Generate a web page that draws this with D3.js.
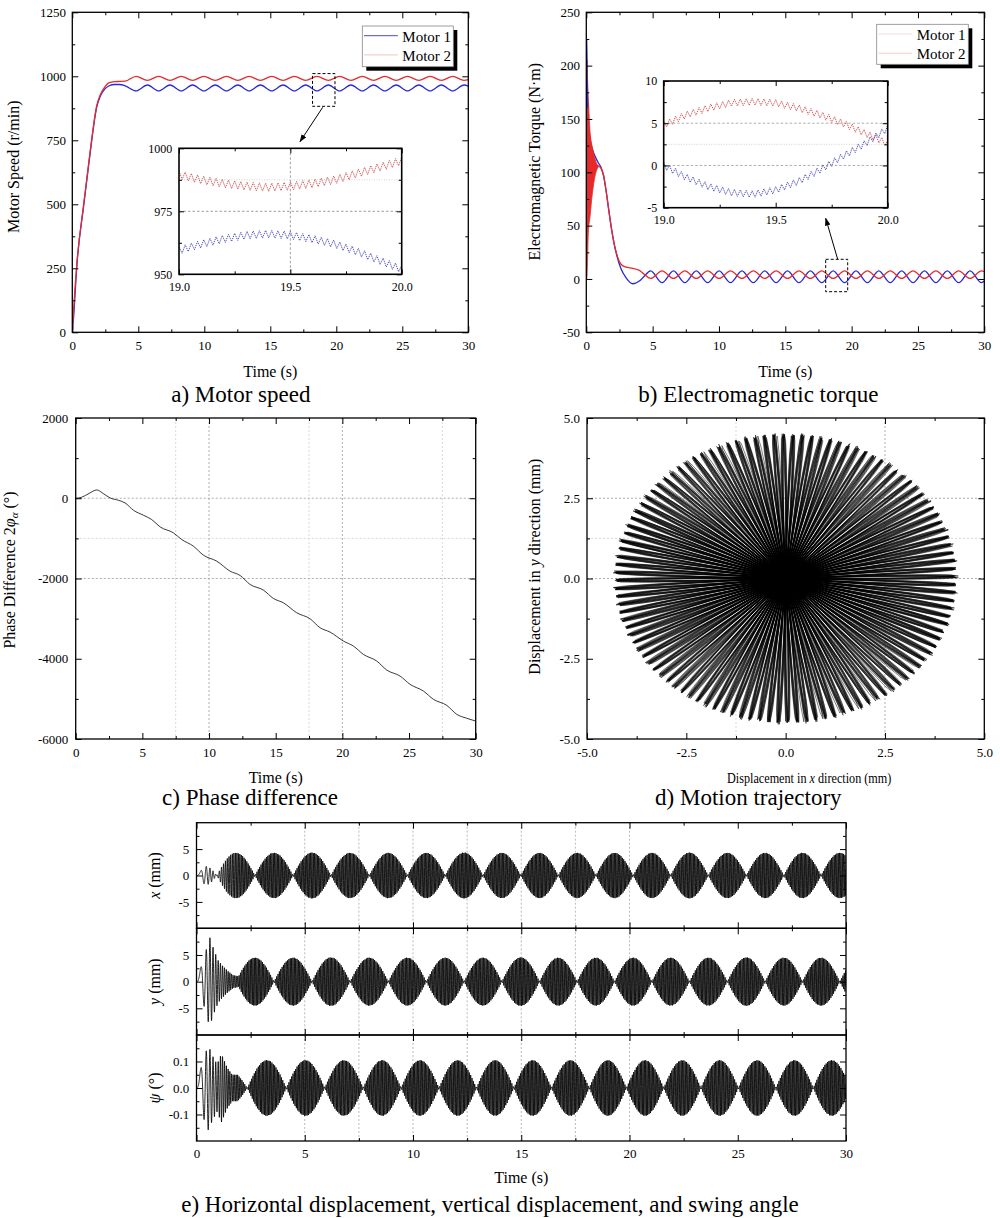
<!DOCTYPE html>
<html><head><meta charset="utf-8">
<script src="https://cdn.jsdelivr.net/npm/d3@7"></script>
<style>body{margin:0;background:#fff}svg{display:block}</style>
</head><body><svg id="fig" width="1000" height="1218"></svg>
<script>
// ---------------- DATA ----------------
// a) Motor speed (r/min)
const speedT = [0,0.1,0.35,0.85,1.35,1.85,2.1,2.45,2.8,3.2,3.6,4.0,
  4.83,5.69,6.54,7.40,8.26,9.11,9.97,10.83,11.68,12.54,13.40,14.25,15.11,15.97,16.82,
  17.68,18.54,19.40,20.25,21.11,21.97,22.82,23.68,24.54,25.39,26.25,27.11,27.96,28.82,29.68,30];
const speed1 = [0,60,265,490,700,880,920,950,963,968,968,963,
  943,966,943,966,943,966,943,966,943,966,943,966,943,966,943,
  966,943,966,943,966,943,966,943,966,943,966,943,966,943,966,962];
const speed2 = [0,90,270,495,705,885,925,958,975,979,980,981,
  1000,984,1000,984,1000,984,1000,984,1000,984,1000,984,1000,984,1000,
  984,1000,984,1000,984,1000,984,1000,984,1000,984,1000,984,1000,984,987];
// inset of a) 19.0–20.0 s: slow component and ripple
const insetT = [19.0,19.1,19.2,19.3,19.4,19.5,19.6,19.7,19.8,19.9,20.0];
const insetSpeed1 = [959.5,962,964,965.5,966,965.5,964,962,959,955.5,952];
const insetSpeed2 = [989.5,987.5,986,985,984.5,985,986,987.5,990,992.5,995];
const speedRippleAmp = [1.5,1.6];   // motor1, motor2 (half peak-to-peak)
const speedRippleCycles = 36;
// b) Electromagnetic torque (N·m)
const torqueT = [0,0.02,0.05,0.1,0.3,0.5,0.7,0.9,1.1,1.3,1.5,1.7,1.9,2.1,2.3,2.6,3.0,3.5,4.0,4.4,
  4.85,5.71,6.57,7.43,8.29,9.15,10.01,10.87,11.73,12.59,13.45,14.31,15.17,16.03,16.89,17.75,
  18.61,19.47,20.33,21.19,22.05,22.91,23.77,24.63,25.49,26.35,27.21,28.07,28.93,29.79,30];
const torque1 = [0,225,190,160,130,120,114,109,105,97,82,64,47,33,22,10,1,-4.5,-2,3,
  7.5,-3.5,7.5,-3.5,7.5,-3.5,7.5,-3.5,7.5,-3.5,7.5,-3.5,7.5,-3.5,7.5,-3.5,
  7.5,-3.5,7.5,-3.5,7.5,-3.5,7.5,-3.5,7.5,-3.5,7.5,-3.5,7.5,-3.5,-2];
const torque2 = [0,150,205,120,100,104,107,106,104,97,82,64,47,33,23,14,11,10,8,4,
  0.5,7.5,0.5,7.5,0.5,7.5,0.5,7.5,0.5,7.5,0.5,7.5,0.5,7.5,0.5,7.5,
  0.5,7.5,0.5,7.5,0.5,7.5,0.5,7.5,0.5,7.5,0.5,7.5,0.5,7.5,7.0];
// start-up band of motor 2 torque (dense oscillation)
const bandT  = [0.02,0.05,0.1,0.15,0.28,0.4,0.53,0.65,0.78,0.9];
const bandHi = [190,205,185,171,138,127,119,113,108,105];
const bandLo = [0,2,20,43,58,74,87,96,102,105];
// inset of b)
const insetTorque1 = [0.0,-1.4,-2.5,-3.2,-3.4,-2.9,-1.9,-0.5,1.1,2.6,4.4];
const insetTorque2 = [4.8,6.0,6.8,7.4,7.55,7.4,6.8,6.0,5.0,3.8,2.6];
const torqueRippleAmp = [0.4,0.4];
const torqueRippleCycles = 38;
// c) Phase difference (deg)
const phaseT = [0,0.45,1.0,1.58,2.1,2.58,3.2,3.7,4.33,5.08,5.7,6.33,7.33,7.95,8.83,9.58,10.58,11.58,12.33,13.08,
  14.08,14.83,15.58,16.58,17.58,18.33,19.08,20.08,20.83,21.58,22.58,23.33,24.33,25.08,26.08,26.83,27.83,28.58,29.3,30];
const phaseV = [0,25,120,207,110,8,-50,-116,-299,-423,-531,-714,-863,-1029,-1195,-1419,-1568,-1817,-1925,-2149,
  -2290,-2498,-2606,-2855,-3004,-3228,-3336,-3560,-3685,-3892,-4058,-4282,-4432,-4639,-4805,-5012,-5162,-5386,-5480,-5552];
// e) displacement envelopes: zero crossings of the beat and lobe amplitudes
const xNullT = [2.70,4.46,6.21,7.98,9.74,11.49,13.23,14.98,16.71,18.45,20.17,21.90,23.64,25.40,27.13,28.85,30.58];
const xLobeAmp = [4.3,4.3,4.35,4.3,4.3,4.3,4.35,4.3,4.3,4.3,4.3,4.3,4.35,4.3,4.3,4.3,4.3]; // lobe before first null, then between nulls
const yLobeAmp = [4.5,4.5,4.55,4.5,4.5,4.5,4.5,4.55,4.5,4.5,4.5,4.5,4.5,4.55,4.5,4.5,4.5]; // lobes centred on x nulls
const psiNullT = [2.35,4.15,5.92,7.70,9.45,11.20,12.93,14.66,16.40,18.14,19.86,21.58,23.30,25.03,26.76,28.49,30.20];
const psiLobeAmp = [0.105,0.105,0.105,0.105,0.105,0.105,0.105,0.105,0.105,0.105,0.105,0.105,0.105,0.105,0.105,0.105,0.105];
const cyclesPerLobe = 28.01;
// start-up transients (envelope values)
const xStartT = [0,0.15,0.3,0.5,0.7,0.94];       const xStartV = [0,0.6,1.5,1.8,1.2,0];
const yStartT = [0,0.15,0.3,0.45,0.6,0.8,1.0,1.2,1.45,1.7,1.95];
const yStartV = [0,2,4,6,8.5,6,4,3,2,1.2,1.0];
const psiStartT = [0,0.15,0.35,0.55,0.75,0.95,1.15,1.4,1.65,1.9,2.1,2.35];
const psiStartV = [0,0.06,0.12,0.16,0.12,0.09,0.13,0.08,0.05,0.05,0.03,0];
// ticks & grids
const tTicks = [0,5,10,15,20,25,30], tMinor = [2.5,7.5,12.5,17.5,22.5,27.5];
const speedTicks = [0,250,500,750,1000,1250], speedMinor = [125,375,625,875,1125];
const torqueTicks = [-50,0,50,100,150,200,250], torqueMinor = [-25,25,75,125,175,225];
const phaseTicks = [-6000,-4000,-2000,0,2000], phaseMinor = [-5000,-3000,-1000,1000];
const dispTicks = [-5,-2.5,0,2.5,5], dispMinor = [-3.75,-1.25,1.25,3.75];
const eTicks = [-5,0,5], eMinor = [-7.5,-2.5,2.5,7.5];
const psiTicks = [-0.1,0,0.1], psiMinor = [-0.15,-0.05,0.05,0.15];
const phaseGridMajorY = [0,-2000], phaseGridMinorY = [-1000], phaseGridMajorX = [10,20], phaseGridMinorX = [7.5,17.5,27.5];
const dispGridMajorY = [2.5,0], dispGridMinorY = [1.25], dispGridMajorX = [2.5], dispGridMinorX = [-1.25];
const eGridX = [5,7.5,10,12.5,15,17.5,20];

// ---------------- DRAWING ----------------
const FONT = '"Liberation Serif","Times New Roman",serif';
const BLUE = "#2828d8", RED = "#e62a2a";
const svg = d3.select("#fig");
const defs = svg.append("defs");
let cid = 0;
function clip(xs, ys){ const id = "clip"+(cid++); const [x0,x1]=xs.range(), [y0,y1]=ys.range();
  defs.append("clipPath").attr("id",id).append("rect").attr("x",x0).attr("y",y1).attr("width",x1-x0).attr("height",y0-y1);
  return `url(#${id})`; }
defs.append("marker").attr("id","arr").attr("viewBox","0 0 10 10").attr("refX",9).attr("refY",5)
  .attr("markerWidth",8).attr("markerHeight",8).attr("orient","auto")
  .append("path").attr("d","M0,1.5L10,5L0,8.5z").attr("fill","#000");

function txt(x, y, s, o={}) {
  const t = svg.append("text").attr("font-family",FONT).attr("font-size",o.fs||16)
    .attr("text-anchor",o.anchor||"middle").attr("fill","#000");
  let tr = `translate(${x},${y})`;
  if (o.rot) tr += " rotate(-90)";
  if (o.sx) tr += ` scale(${o.sx},1)`;
  t.attr("transform", tr);
  if (Array.isArray(s)) s.forEach(p => { const sp = t.append("tspan").text(p.t); if (p.i) sp.attr("font-style","italic"); if (p.fs) sp.attr("font-size",p.fs); if (p.dy) sp.attr("dy",p.dy); });
  else t.text(s);
  return t;
}
const fmtI = d => String(d);
const fmt1 = d => (Math.abs(d) < 1e-9 ? 0 : d).toFixed(1);
const none = () => "";

function axes(g, xs, ys, o) {
  const [X0, X1] = xs.range(), [YB, YT] = ys.range();
  const style = s => { s.select(".domain").remove();
    s.selectAll("line").attr("stroke","#000").attr("stroke-width",1);
    s.selectAll("text").attr("font-family",FONT).attr("font-size",o.fs||13).attr("fill","#000"); };
  const add = (ax, tx, ty) => g.append("g").attr("transform",`translate(${tx},${ty})`).call(ax).call(style);
  const M = o.maj||6, m = o.min||3;
  add(d3.axisBottom(xs).tickValues(o.xMajor).tickSizeInner(-M).tickSizeOuter(0).tickPadding(o.xPad||8).tickFormat(o.xFmt||none),0,YB);
  if (o.xMinor) add(d3.axisBottom(xs).tickValues(o.xMinor).tickSizeInner(-m).tickSizeOuter(0).tickFormat(none),0,YB);
  add(d3.axisTop(xs).tickValues(o.xMajor).tickSizeInner(-M).tickSizeOuter(0).tickFormat(none),0,YT);
  if (o.xMinor) add(d3.axisTop(xs).tickValues(o.xMinor).tickSizeInner(-m).tickSizeOuter(0).tickFormat(none),0,YT);
  add(d3.axisLeft(ys).tickValues(o.yMajor).tickSizeInner(-M).tickSizeOuter(0).tickPadding(o.yPad||6).tickFormat(o.yFmt||none),X0,0);
  if (o.yMinor) add(d3.axisLeft(ys).tickValues(o.yMinor).tickSizeInner(-m).tickSizeOuter(0).tickFormat(none),X0,0);
  add(d3.axisRight(ys).tickValues(o.yMajor).tickSizeInner(-M).tickSizeOuter(0).tickFormat(none),X1,0);
  if (o.yMinor) add(d3.axisRight(ys).tickValues(o.yMinor).tickSizeInner(-m).tickSizeOuter(0).tickFormat(none),X1,0);
  g.append("rect").attr("x",X0).attr("y",YT).attr("width",X1-X0).attr("height",YB-YT)
    .attr("fill","none").attr("stroke","#000").attr("stroke-width",o.fw||1.3);
}
function grid(g, xs, ys, xv, yv, color, dash) {
  const [X0,X1]=xs.range(), [YB,YT]=ys.range();
  g.selectAll(null).data(yv).join("line").attr("x1",X0).attr("x2",X1).attr("y1",d=>ys(d)).attr("y2",d=>ys(d))
    .attr("stroke",color).attr("stroke-width",0.8).attr("stroke-dasharray",dash);
  g.selectAll(null).data(xv).join("line").attr("y1",YT).attr("y2",YB).attr("x1",d=>xs(d)).attr("x2",d=>xs(d))
    .attr("stroke",color).attr("stroke-width",0.8).attr("stroke-dasharray",dash);
}
function legend(x, y, w, h, items) {
  svg.append("rect").attr("x",x+4).attr("y",y+4).attr("width",w).attr("height",h).attr("fill","#000");
  svg.append("rect").attr("x",x).attr("y",y).attr("width",w).attr("height",h).attr("fill","#fff").attr("stroke","#888").attr("stroke-width",0.8);
  items.forEach((it,i) => {
    const ly = y + 9.7 + i*19.2;
    svg.append("line").attr("x1",x+1.7).attr("x2",x+35.5).attr("y1",ly).attr("y2",ly).attr("stroke",it.c).attr("stroke-width",1);
    txt(x+40, ly+6, it.label, {fs:15, anchor:"start"});
  });
}
function rippleSeries(T, V, amp, cycles) {
  const slow = d3.scaleLinear().domain(T).range(V);
  const n = cycles*2, t0 = T[0], t1 = T[T.length-1];
  return d3.range(n+1).map(i => { const t = t0 + (t1-t0)*i/n; return [t, slow(t) + (i%2 ? -amp : amp)]; });
}

// ---------- Panel a ----------
{
  const xs = d3.scaleLinear([0,30],[72.3,468.3]), ys = d3.scaleLinear([0,1250],[332.3,12.3]);
  const g = svg.append("g");
  const cp = clip(xs, ys);
  const mk = arr => d3.line().x((d,i)=>xs(speedT[i])).y(d=>ys(d)).curve(d3.curveMonotoneX)(arr);
  g.append("path").attr("d",mk(speed1)).attr("fill","none").attr("stroke",BLUE).attr("stroke-width",1.3).attr("clip-path",cp);
  g.append("path").attr("d",mk(speed2)).attr("fill","none").attr("stroke",RED).attr("stroke-width",1.3).attr("clip-path",cp);
  axes(g, xs, ys, {xMajor:tTicks, xMinor:tMinor, yMajor:speedTicks, yMinor:speedMinor, xFmt:fmtI, yFmt:fmtI, xPad:8, yPad:6.3});
  // zoom box and arrow
  g.append("rect").attr("x",xs(18.2)).attr("y",ys(1000)-2.7).attr("width",xs(19.9)-xs(18.2)).attr("height",32.7)
    .attr("fill","none").attr("stroke","#000").attr("stroke-width",1).attr("stroke-dasharray","3,2");
  g.append("line").attr("x1",322.7).attr("y1",107.3).attr("x2",300).attr("y2",141.7).attr("stroke","#000").attr("stroke-width",1).attr("marker-end","url(#arr)");
  // inset
  const ix = d3.scaleLinear([19,20],[179,401.7]), iy = d3.scaleLinear([950,1000],[274.3,148.3]);
  const gi = svg.append("g");
  gi.append("rect").attr("x",179).attr("y",148.3).attr("width",222.7).attr("height",126).attr("fill","#fff");
  grid(gi, ix, iy, [], [987.5], "#c8c8c8", "1,1.5");
  grid(gi, ix, iy, [19.5], [975], "#888", "2.5,2");
  const icp = clip(ix, iy);
  const il = d3.line().x(d=>ix(d[0])).y(d=>iy(d[1]));
  gi.append("path").attr("d",il(rippleSeries(insetT,insetSpeed2,speedRippleAmp[1],speedRippleCycles))).attr("fill","none")
    .attr("stroke","#c84646").attr("stroke-width",0.9).attr("stroke-dasharray","1.3,0.9").attr("clip-path",icp);
  gi.append("path").attr("d",il(rippleSeries(insetT,insetSpeed1,speedRippleAmp[0],speedRippleCycles))).attr("fill","none")
    .attr("stroke","#4040b0").attr("stroke-width",0.9).attr("stroke-dasharray","1.3,0.9").attr("clip-path",icp);
  axes(gi, ix, iy, {xMajor:[19,19.5,20], xMinor:[19.25,19.75], yMajor:[950,975,1000], yMinor:[962.5,987.5],
    xFmt:fmt1, yFmt:fmtI, fs:12, xPad:8, yPad:6.7, maj:5, min:3, fw:1.6});
  legend(362.3, 26, 91, 40.7, [{label:"Motor 1", c:"#4a4ac8"},{label:"Motor 2", c:"#f2c4c4"}]);
  txt(19, 166.7, "Motor Speed (r/min)", {rot:true});
  txt(270.3, 377, "Time (s)");
  txt(240.8, 401.7, "a) Motor speed", {fs:23});
}

// ---------- Panel b ----------
{
  const xs = d3.scaleLinear([0,30],[586.3,984.3]), ys = d3.scaleLinear([-50,250],[332.3,12.3]);
  const g = svg.append("g");
  const cp = clip(xs, ys);
  const line = d3.line().x((d,i)=>xs(torqueT[i])).y(d=>ys(d)).curve(d3.curveMonotoneX);
  g.append("path").attr("d",line(torque1)).attr("fill","none").attr("stroke",BLUE).attr("stroke-width",1.3).attr("clip-path",cp);
  g.append("path").attr("d",line(torque2)).attr("fill","none").attr("stroke",RED).attr("stroke-width",1.3).attr("clip-path",cp);
  const area = d3.area().x((d,i)=>xs(bandT[i])).y0((d,i)=>ys(bandLo[i])).y1((d,i)=>ys(bandHi[i])).curve(d3.curveMonotoneX);
  g.append("path").attr("d",area(bandT)).attr("fill",RED).attr("stroke",RED).attr("stroke-width",0.8).attr("clip-path",cp);
  // start-up spike of motor 1 stays visible above the band
  const spike = d3.line().x((d,i)=>xs(torqueT[i])).y(d=>ys(d));
  g.append("path").attr("d",spike(torque1.slice(0,4))).attr("fill","none").attr("stroke",BLUE).attr("stroke-width",1.3).attr("clip-path",cp);
  axes(g, xs, ys, {xMajor:tTicks, xMinor:tMinor, yMajor:torqueTicks, yMinor:torqueMinor, xFmt:fmtI, yFmt:fmtI, xPad:8, yPad:6.3});
  g.append("rect").attr("x",825.7).attr("y",259.3).attr("width",22).attr("height",32.4)
    .attr("fill","none").attr("stroke","#000").attr("stroke-width",1).attr("stroke-dasharray","3,2");
  g.append("line").attr("x1",837.7).attr("y1",259.3).attr("x2",825.7).attr("y2",218.3).attr("stroke","#000").attr("stroke-width",1).attr("marker-end","url(#arr)");
  const ix = d3.scaleLinear([19,20],[663.7,887.7]), iy = d3.scaleLinear([-5,10],[207.7,81]);
  const gi = svg.append("g");
  gi.append("rect").attr("x",663.7).attr("y",81).attr("width",224).attr("height",126.7).attr("fill","#fff");
  grid(gi, ix, iy, [], [2.5], "#c8c8c8", "1,1.5");
  grid(gi, ix, iy, [], [5,0], "#999", "2.5,2");
  const icp = clip(ix, iy);
  const il = d3.line().x(d=>ix(d[0])).y(d=>iy(d[1]));
  gi.append("path").attr("d",il(rippleSeries(insetT,insetTorque2,torqueRippleAmp[1],torqueRippleCycles))).attr("fill","none")
    .attr("stroke","#c84646").attr("stroke-width",0.9).attr("stroke-dasharray","1.3,0.9").attr("clip-path",icp);
  gi.append("path").attr("d",il(rippleSeries(insetT,insetTorque1,torqueRippleAmp[0],torqueRippleCycles))).attr("fill","none")
    .attr("stroke","#4040b0").attr("stroke-width",0.9).attr("stroke-dasharray","1.3,0.9").attr("clip-path",icp);
  axes(gi, ix, iy, {xMajor:[19,19.5,20], xMinor:[19.25,19.75], yMajor:[-5,0,5,10], yMinor:[-2.5,2.5,7.5],
    xFmt:fmt1, yFmt:fmtI, fs:12, xPad:8, yPad:6.4, maj:5, min:3, fw:1.6});
  legend(876.7, 24.3, 91.6, 40, [{label:"Motor 1", c:"#f4dada"},{label:"Motor 2", c:"#f2cccc"}]);
  txt(540, 161.7, "Electromagnetic Torque (N·m)", {rot:true});
  txt(785.3, 377, "Time (s)");
  txt(758.3, 401.7, "b) Electromagnetic torque", {fs:23});
}

// ---------- Panel c ----------
{
  const xs = d3.scaleLinear([0,30],[75.7,475.7]), ys = d3.scaleLinear([-6000,2000],[739,418]);
  const g = svg.append("g");
  grid(g, xs, ys, phaseGridMinorX, phaseGridMinorY, "#cfcfcf", "2,2");
  grid(g, xs, ys, phaseGridMajorX, phaseGridMajorY, "#9a9a9a", "2,2");
  const l = d3.line().x((d,i)=>xs(phaseT[i])).y(d=>ys(d)).curve(d3.curveMonotoneX);
  g.append("path").attr("d",l(phaseV)).attr("fill","none").attr("stroke","#222").attr("stroke-width",0.9).attr("clip-path",clip(xs,ys));
  axes(g, xs, ys, {xMajor:tTicks, xMinor:tMinor, yMajor:phaseTicks, yMinor:phaseMinor, xFmt:fmtI, yFmt:fmtI, xPad:8.5, yPad:7.4});
  txt(15, 570, [{t:"Phase Difference 2"},{t:"φ",i:true},{t:"α",i:true,fs:11,dy:3},{t:" (°)",dy:-3}], {rot:true});
  txt(275.7, 783.3, "Time (s)");
  txt(250, 805, "c) Phase difference", {fs:23});
}

// ---------- signals for d) and e) ----------
const avgSpeed = d3.scaleLinear().domain(speedT).range(speedT.map((_,i)=>(speed1[i]+speed2[i])/2)).clamp(true);
const xLobe = d3.scaleLinear().domain(xNullT).range(xNullT.map((_,i)=>i));
const psiLobe = d3.scaleLinear().domain(psiNullT).range(psiNullT.map((_,i)=>i));
const xStart = d3.scaleLinear().domain(xStartT).range(xStartV).clamp(true);
const yStart = d3.scaleLinear().domain(yStartT).range(yStartV).clamp(true);
const psiStart = d3.scaleLinear().domain(psiStartT).range(psiStartV).clamp(true);
const ci = (a,i) => a[Math.max(0, Math.min(a.length-1, i))];
function lobeSin(L, amps, off) { const i = Math.floor(L), s = L - i, sg = Math.abs(i)%2===0?1:-1; return sg*ci(amps,i+off)*Math.sin(Math.PI*s); }
function lobeCos(L, amps) { const i = Math.floor(L), s = L - i, sg = Math.abs(i)%2===0?1:-1; return sg*ci(amps, s<0.5?i:i+1)*Math.cos(Math.PI*s); }
const sig = [];
{
  const dt = 0.004, tLock = xNullT[0];
  let ph = 0, phLock = null;
  for (let k = 0; k <= 7500; k++) {
    const t = k*dt;
    let phase;
    if (t <= tLock) { phase = ph; ph += 2*Math.PI*avgSpeed(t)/60*dt; }
    else { if (phLock === null) phLock = ph; phase = phLock + 2*Math.PI*cyclesPerLobe*xLobe(t); }
    const ex = t < xStartT[xStartT.length-1] ? xStart(t) : lobeSin(xLobe(t), xLobeAmp, 1);
    const ey = t < yStartT[yStartT.length-1] ? yStart(t) : lobeCos(xLobe(t), yLobeAmp);
    const ep = t < psiStartT[psiStartT.length-1] ? psiStart(t) : lobeSin(psiLobe(t), psiLobeAmp, 0);
    const c = Math.sin(phase);
    sig.push({t, x: ex*c, y: ey*c, p: ep*c});
  }
}

// ---------- Panel d ----------
{
  const xs = d3.scaleLinear([-5,5],[587,984.3]), ys = d3.scaleLinear([-5,5],[739,418]);
  const g = svg.append("g");
  grid(g, xs, ys, dispGridMinorX, dispGridMinorY, "#cfcfcf", "2,2");
  grid(g, xs, ys, dispGridMajorX, dispGridMajorY, "#9a9a9a", "2,2");
  const l = d3.line().x(d=>xs(d.x)).y(d=>ys(d.y));
  g.append("path").attr("d",l(sig.filter(d=>d.t>=1.95))).attr("fill","none").attr("stroke","#000").attr("stroke-width",0.5).attr("clip-path",clip(xs,ys));
  axes(g, xs, ys, {xMajor:dispTicks, xMinor:dispMinor, yMajor:dispTicks, yMinor:dispMinor, xFmt:fmt1, yFmt:fmt1, xPad:8.5, yPad:7});
  txt(540, 566.7, [{t:"Displacement in "},{t:"y",i:true},{t:" direction (mm)"}], {rot:true});
  txt(809.2, 783.3, [{t:"Displacement in "},{t:"x",i:true},{t:" direction (mm)"}], {fs:14, sx:0.87});
  txt(748.3, 805, "d) Motion trajectory", {fs:23});
}

// ---------- Panel e ----------
{
  const xs = d3.scaleLinear([0,30],[196.5,846]);
  const rows = [
    {ys:d3.scaleLinear([-10,10],[928.3,822.7]), key:"x", ticks:eTicks, minor:eMinor, fmt:fmtI, title:[{t:"x",i:true},{t:" (mm)"}]},
    {ys:d3.scaleLinear([-10,10],[1035,928.3]), key:"y", ticks:eTicks, minor:eMinor, fmt:fmtI, title:[{t:"y",i:true},{t:" (mm)"}]},
    {ys:d3.scaleLinear([-0.2,0.2],[1141,1035]), key:"p", ticks:psiTicks, minor:psiMinor, fmt:fmt1, title:[{t:"ψ",i:true},{t:" (°)"}]}
  ];
  rows.forEach((r, ri) => {
    const g = svg.append("g");
    grid(g, xs, r.ys, eGridX, [], "#a8a8a8", "2,2");
    const l = d3.line().x(d=>xs(d.t)).y(d=>r.ys(d[r.key]));
    g.append("path").attr("d",l(sig)).attr("fill","none").attr("stroke","#000").attr("stroke-width",0.85).attr("clip-path",clip(xs,r.ys));
    axes(g, xs, r.ys, {xMajor:tTicks, xMinor:tMinor, yMajor:r.ticks, yMinor:r.minor, xFmt: ri===2?fmtI:none, yFmt:r.fmt, xPad:7.8, yPad:7.2, maj:6, min:3});
    const [yb, yt] = r.ys.range();
    txt(160, (yb+yt)/2, r.title, {rot:true});
  });
  txt(521.3, 1183, "Time (s)");
  txt(490, 1211.5, "e) Horizontal displacement, vertical displacement, and swing angle", {fs:23});
}
</script></body></html>
